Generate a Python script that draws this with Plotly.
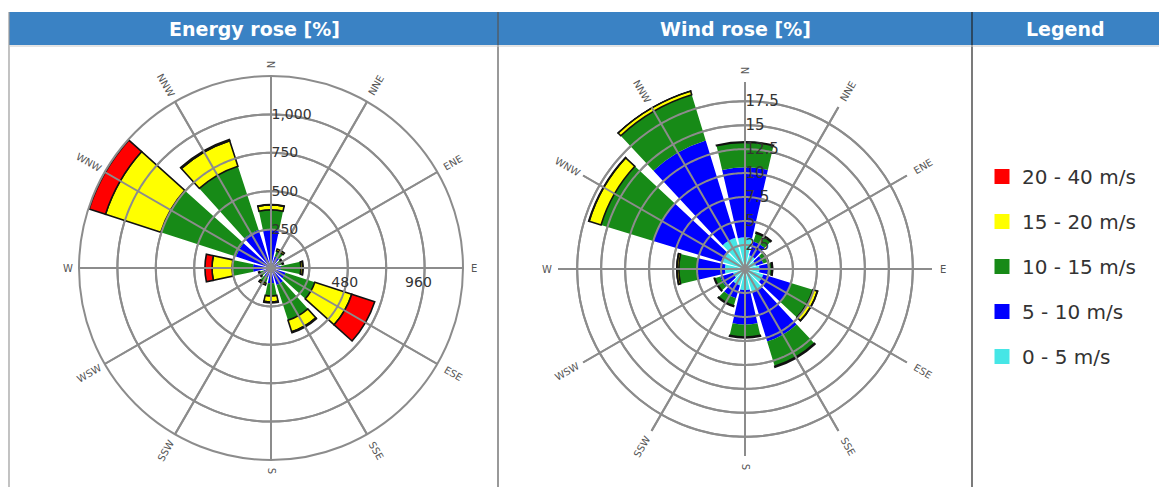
import math
import plotly.graph_objects as go

# Compass sectors (12 x 30 degrees)
directions = ["N", "NNE", "ENE", "E", "ESE", "SSE", "S", "SSW", "WSW", "W", "WNW", "NNW"]
bearings = [0, 30, 60, 90, 120, 150, 180, 210, 240, 270, 300, 330]

speed_bins = ["0 - 5 m/s", "5 - 10 m/s", "10 - 15 m/s", "15 - 20 m/s", "20 - 40 m/s"]
bin_colors = ["#46E6E6", "#0000FF", "#178A17", "#FFFF00", "#FF0000"]

# Energy rose: contribution of each speed bin per sector
energy_0_5 = [4, 2, 2, 2, 3, 3, 3, 2, 2, 3, 4, 4]
energy_5_10 = [246, 76, 50, 63, 97, 114, 97, 63, 50, 114, 236, 256]
energy_10_15 = [128, 39, 26, 130, 200, 241, 82, 39, 26, 137, 515, 437]
energy_15_20 = [32, 13, 7, 13, 253, 78, 39, 13, 7, 130, 378, 175]
energy_20_40 = [3, 0, 0, 2, 157, 7, 7, 0, 0, 46, 112, 8]

# Wind rose: frequency [%] of each speed bin per sector
wind_0_5 = [3.3, 1.5, 1.2, 1.5, 2.0, 2.6, 2.2, 1.8, 1.3, 2.1, 2.6, 3.4]
wind_5_10 = [7.3, 1.5, 0.8, 0.9, 3.0, 5.3, 3.6, 1.4, 1.4, 2.9, 7.4, 10.6]
wind_10_15 = [2.6, 0.9, 0.5, 0.4, 2.4, 2.7, 1.3, 0.8, 0.6, 1.9, 5.7, 5.0]
wind_15_20 = [0.05, 0.1, 0.05, 0.1, 0.5, 0.1, 0.1, 0.1, 0.05, 0.2, 1.3, 0.4]
wind_20_40 = [0, 0, 0, 0, 0.02, 0, 0, 0, 0, 0.02, 0.05, 0.02]

energy_range = [0, 1250]
energy_ticks = [250, 500, 750, 1000]
energy_ticktext = ["250", "500", "750", "1,000"]
energy_east_marks = [480, 960]
energy_east_text = ["480", "960"]
wind_range = [0, 19.5]
wind_ticks = [2.5, 5, 7.5, 10, 12.5, 15, 17.5]
wind_ticktext = ["2.5", "5", "7.5", "10", "12.5", "15", "17.5"]

W, H = 1159, 487
GRID = "#8C8C8C"
HEADER = "#3A82C4"

# Rose geometry in pixels: centre x, centre y, radius
ENERGY_GEO = (271, 268, 192)
WIND_GEO = (745, 269, 187)


def domain(geo):
    cx, cy, r = geo
    return dict(x=[(cx - r) / W, (cx + r) / W], y=[1 - (cy + r) / H, 1 - (cy - r) / H])


fig = go.Figure()

energy_bins = [energy_0_5, energy_5_10, energy_10_15, energy_15_20, energy_20_40]
wind_bins = [wind_0_5, wind_5_10, wind_10_15, wind_15_20, wind_20_40]


def add_rose(bins, width, subplot):
    for name, color, vals in zip(speed_bins, bin_colors, bins):
        outlined = color in ("#FFFF00", "#FF0000")
        fig.add_trace(go.Barpolar(
            r=vals, theta=bearings, width=width, subplot=subplot, name=name,
            marker=dict(color=color, line=dict(color="#111111" if outlined else color,
                                               width=1.6 if outlined else 0)),
            showlegend=False, hoverinfo="skip"))


def add_grid(rings, rmax, subplot):
    # Rings and spokes painted over the bars
    ring_r, ring_t = [], []
    for v in rings:
        ring_r += [v] * 361 + [None]
        ring_t += list(range(361)) + [None]
    spoke_r, spoke_t = [], []
    for b in bearings:
        spoke_r += [0, rmax, None]
        spoke_t += [b, b, None]
    for rr, tt in ((ring_r, ring_t), (spoke_r, spoke_t)):
        fig.add_trace(go.Scatterpolar(
            r=rr, theta=tt, mode="lines", subplot=subplot, connectgaps=False,
            line=dict(color=GRID, width=2), showlegend=False, hoverinfo="skip"))


add_rose(energy_bins, 24, "polar")
add_rose(wind_bins, 26, "polar2")
add_grid(energy_ticks, energy_range[1], "polar")
add_grid(wind_ticks, wind_range[1], "polar2")

# Secondary labels along the east spoke of the energy rose
fig.add_trace(go.Scatterpolar(
    r=energy_east_marks, theta=[90] * len(energy_east_marks), mode="markers+text",
    text=energy_east_text, textposition="bottom center", subplot="polar",
    marker=dict(size=12, color="rgba(0,0,0,0)"),
    textfont=dict(family="DejaVu Sans", size=14, color="#333333"),
    showlegend=False, hoverinfo="skip"))

# Legend entries, top to bottom from the fastest bin
for name, color in reversed(list(zip(speed_bins, bin_colors))):
    fig.add_trace(go.Scatterpolar(
        r=[None], theta=[None], mode="markers", subplot="polar", name=name,
        legendgroup=name,
        marker=dict(symbol="square", size=15, color=color, line=dict(width=0))))


def polar_layout(geo, rng, ticks, ticktext, outer_line, tick_size):
    return dict(
        domain=domain(geo),
        bgcolor="white",
        barmode="stack",
        radialaxis=dict(range=rng, tickvals=ticks, ticktext=ticktext, angle=90,
                        tickangle=90, showline=False, ticks="", layer="above traces",
                        gridcolor=GRID, gridwidth=2,
                        tickfont=dict(family="DejaVu Sans", size=tick_size, color="#333333")),
        angularaxis=dict(rotation=90, direction="clockwise", thetaunit="degrees",
                         tickmode="array", tickvals=bearings, showticklabels=False,
                         ticks="", layer="above traces", gridcolor=GRID, gridwidth=2,
                         showline=outer_line, linecolor=GRID, linewidth=2),
    )


annotations = []
shapes = []

# Compass labels written along their spokes
for geo in (ENERGY_GEO, WIND_GEO):
    cx, cy, r = geo
    for d, b in zip(directions, bearings):
        rr = r + 7 + 3.8 * len(d)
        a = math.radians(b)
        px = cx + rr * math.sin(a)
        py = cy - rr * math.cos(a)
        ang = b - 90 if b <= 180 else b - 270
        annotations.append(dict(
            x=px / W, y=1 - py / H, xref="paper", yref="paper", text=d,
            showarrow=False, textangle=ang, xanchor="center", yanchor="middle",
            font=dict(family="DejaVu Sans", size=10, color="#555555")))

# Panel headers
shapes.append(dict(type="rect", xref="paper", yref="paper", x0=9 / W, x1=1.0,
                   y0=1 - 45 / H, y1=1 - 12 / H, fillcolor=HEADER, line=dict(width=0),
                   layer="below"))
for xpx, col in ((9, "#9A9A9A"), (498, "#555555"), (972, "#222222")):
    shapes.append(dict(type="line", xref="paper", yref="paper", x0=xpx / W, x1=xpx / W,
                       y0=0, y1=1 - 12 / H, line=dict(color=col, width=1.2)))
shapes.append(dict(type="line", xref="paper", yref="paper", x0=9 / W, x1=1.0,
                   y0=1 - 46 / H, y1=1 - 46 / H, line=dict(color="#C8C8C8", width=1)))

for title, xc in (("Energy rose [%]", 254), ("Wind rose [%]", 735), ("Legend", 1065)):
    annotations.append(dict(
        x=xc / W, y=1 - 29 / H, xref="paper", yref="paper", text=title, showarrow=False,
        xanchor="center", yanchor="middle",
        font=dict(family="DejaVu Sans", size=19, color="white", weight="bold")))

fig.update_layout(
    width=W, height=H,
    margin=dict(l=0, r=0, t=0, b=0),
    paper_bgcolor="white",
    polar=polar_layout(ENERGY_GEO, energy_range, energy_ticks, energy_ticktext, True, 14),
    polar2=polar_layout(WIND_GEO, wind_range, wind_ticks, wind_ticktext, False, 15),
    showlegend=True,
    legend=dict(x=982 / W, y=1 - 157 / H, xanchor="left", yanchor="top",
                font=dict(family="DejaVu Sans", size=20, color="#333333"),
                tracegroupgap=16, itemsizing="trace", bgcolor="rgba(0,0,0,0)"),
    annotations=annotations,
    shapes=shapes,
)

fig.write_html("out.html")
